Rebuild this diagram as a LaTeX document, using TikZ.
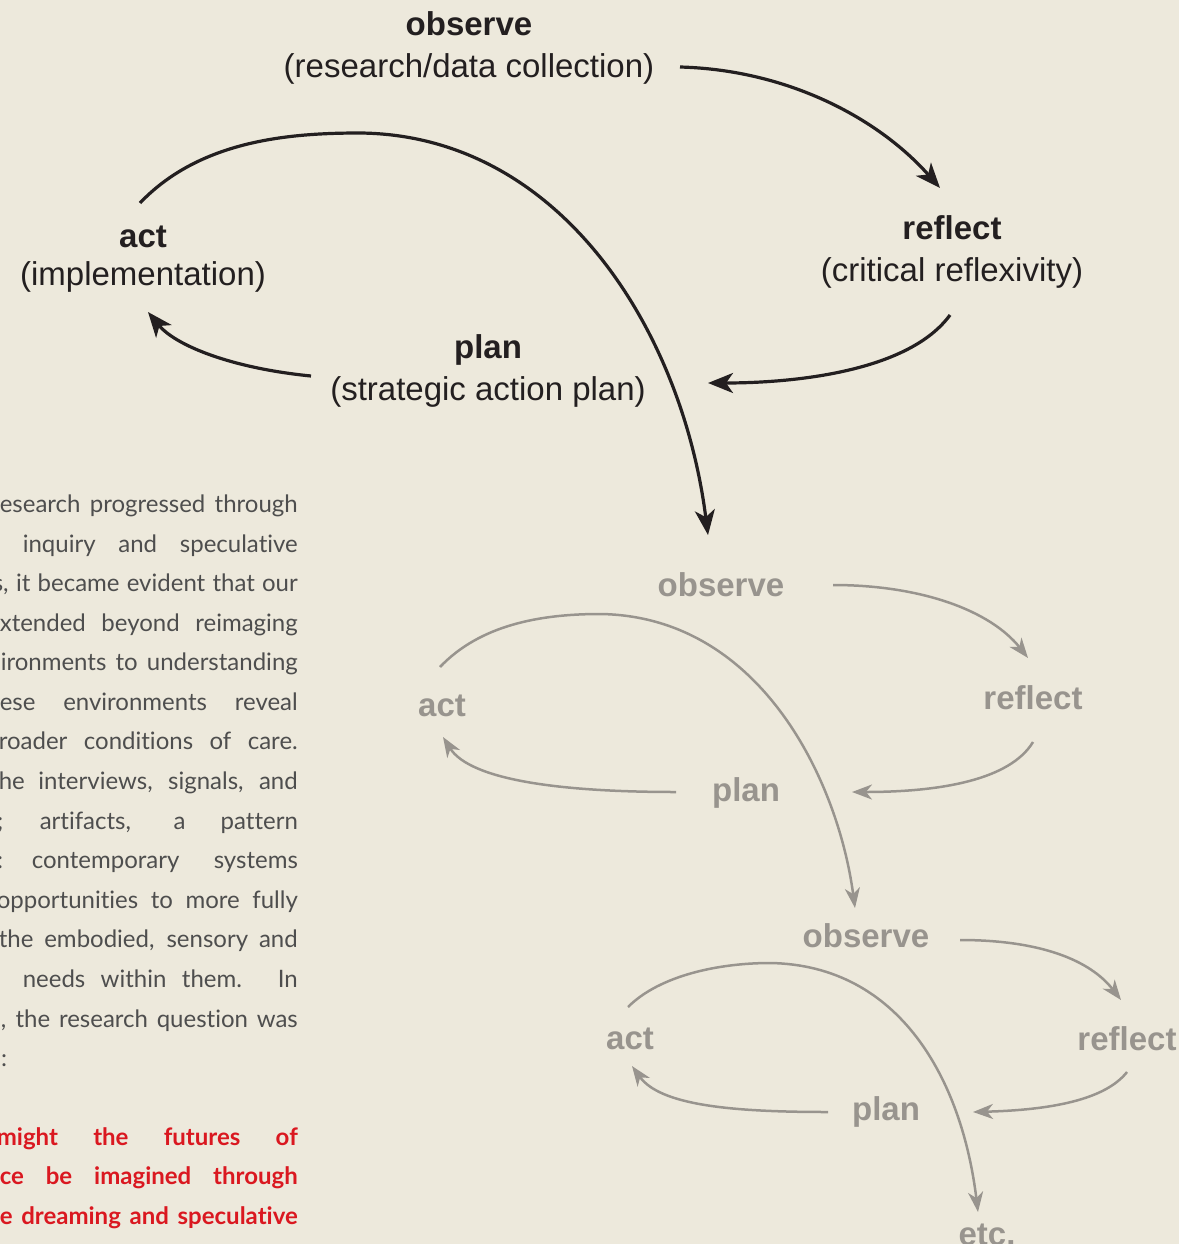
\documentclass[tikz,border=0pt]{standalone}
\usepackage{fontspec}
\setmainfont{Liberation Sans}
\newfontfamily\lato[Ligatures=NoCommon]{Lato}
\usetikzlibrary{arrows.meta}
\definecolor{bg}{RGB}{237,233,220}
\definecolor{ink}{RGB}{35,31,32}
\definecolor{fade}{RGB}{152,148,142}
\definecolor{bodytext}{RGB}{78,78,78}
\definecolor{qred}{RGB}{218,24,32}
\begin{document}
\begin{tikzpicture}[x=1pt,y=-1pt,
  lbl/.style={inner sep=0pt, anchor=base, font=\fontsize{33}{38}\selectfont, text=ink},
  ttl/.style={lbl, font=\fontsize{33}{38}\selectfont\bfseries},
  gttl/.style={ttl, text=fade},
  darkflow/.style={draw=ink, line width=3.2pt, -{Stealth[length=25pt,width=20pt,inset=7pt]}},
  fadeflow/.style={draw=fade, line width=2.5pt, -{Stealth[length=20pt,width=15pt,inset=6pt]}},
  bodyl/.style={anchor=base east, inner sep=0pt, font=\lato\fontsize{24}{30}\selectfont, text=bodytext},
  qline/.style={bodyl, font=\lato\bfseries\fontsize{24}{30}\selectfont, text=qred}
]
\useasboundingbox (0,0) rectangle (1179,1244);
\fill[bg] (0,0) rectangle (1179,1244);
\clip (0,0) rectangle (1179,1244);

% ---------- top cycle ----------
\node[ttl] (obs1) at (469,36) {observe};
\node[lbl] (obs1s) at (469,78) {(research/data collection)};
\node[ttl] (act1) at (143,247) {act};
\node[lbl] (act1s) at (143,285) {(implementation)};
\node[ttl] (ref1) at (952,239) {reflect};
\node[lbl] (ref1s) at (952,281) {(critical reflexivity)};
\node[ttl] (pl1) at (488,358) {plan};
\node[lbl] (pl1s) at (488,400) {(strategic action plan)};

\coordinate (o1out) at (680,67);
\coordinate (r1in) at (940,188);
\coordinate (r1out) at (950,315);
\coordinate (p1in) at (708,383);
\coordinate (p1out) at (311,376);
\coordinate (a1in) at (148,312);
\coordinate (a1out) at (140,203);
\coordinate (a1top) at (360,133);
\coordinate (o2in) at (708,535);

\draw[darkflow] (o1out) .. controls (790,70) and (880,120) .. (r1in);
\draw[darkflow] (r1out) .. controls (910,370) and (800,383) .. (p1in);
\draw[darkflow] (p1out) .. controls (230,368) and (175,345) .. (a1in);
\draw[darkflow] (a1out) .. controls (200,140) and (290,133) .. (a1top) .. controls (560,135) and (682,330) .. (o2in);

% ---------- middle cycle ----------
\node[gttl] (obs2) at (721,596) {observe};
\node[gttl] (act2) at (442,716) {act};
\node[gttl] (ref2) at (1033,709) {reflect};
\node[gttl] (pl2) at (746,801) {plan};

\coordinate (o2out) at (833,585);
\coordinate (r2in) at (1028,658);
\coordinate (r2out) at (1033,742);
\coordinate (p2in) at (852,792);
\coordinate (p2out) at (676,792);
\coordinate (a2in) at (443,737);
\coordinate (a2out) at (440,667);
\coordinate (a2top) at (600,614);
\coordinate (o3in) at (855,908);

\draw[fadeflow] (o2out) .. controls (920,585) and (990,610) .. (r2in);
\draw[fadeflow] (r2out) .. controls (1010,780) and (940,792) .. (p2in);
\draw[fadeflow] (p2out) .. controls (560,792) and (470,780) .. (a2in);
\draw[fadeflow] (a2out) .. controls (480,625) and (540,614) .. (a2top) .. controls (760,616) and (838,780) .. (o3in);

% ---------- bottom cycle ----------
\node[gttl] (obs3) at (866,947) {observe};
\node[gttl] (act3) at (630,1049) {act};
\node[gttl] (ref3) at (1127,1050) {reflect};
\node[gttl] (pl3) at (886,1120) {plan};
\node[gttl] (etc) at (987,1245) {etc.};

\coordinate (o3out) at (960,940);
\coordinate (r3in) at (1121,1000);
\coordinate (r3out) at (1127,1072);
\coordinate (p3in) at (973,1112);
\coordinate (p3out) at (828,1112);
\coordinate (a3in) at (632,1066);
\coordinate (a3out) at (628,1007);
\coordinate (a3top) at (770,963);
\coordinate (etcin) at (978,1212);

\draw[fadeflow] (o3out) .. controls (1040,940) and (1090,960) .. (r3in);
\draw[fadeflow] (r3out) .. controls (1105,1100) and (1050,1110) .. (p3in);
\draw[fadeflow] (p3out) .. controls (730,1112) and (660,1105) .. (a3in);
\draw[fadeflow] (a3out) .. controls (660,975) and (720,963) .. (a3top) .. controls (900,965) and (962,1080) .. (etcin);

% ---------- body text (cut at left edge) ----------
\node[bodyl] (b1) at (298,512) {\makebox[298pt][s]{esearch progressed through}};
\node[bodyl] (b2) at (298,552) {\makebox[275pt][s]{inquiry and speculative}};
\node[bodyl] (b3) at (298,591) {\makebox[305pt][s]{s, it became evident that our}};
\node[bodyl] (b4) at (298,631) {\makebox[298pt][s]{xtended beyond reimaging}};
\node[bodyl] (b5) at (298,670) {\makebox[297pt][s]{ironments to understanding}};
\node[bodyl] (b6) at (298,710) {\makebox[298pt][s]{ese environments reveal}};
\node[bodyl] (b7) at (298,749) {\makebox[299pt][s]{roader conditions of care.}};
\node[bodyl] (b8) at (298,789) {\makebox[299pt][s]{he interviews, signals, and}};
\node[bodyl, anchor=base west] (b9a) at (-3,829) {;};
\node[bodyl] (b9) at (298,829) {\makebox[258pt][s]{artifacts, a pattern}};
\node[bodyl, anchor=base west] (b10a) at (-3,868) {:};
\node[bodyl] (b10) at (298,868) {\makebox[266pt][s]{contemporary systems}};
\node[bodyl] (b11) at (298,908) {\makebox[301pt][s]{opportunities to more fully}};
\node[bodyl] (b12) at (298,947) {\makebox[299pt][s]{the embodied, sensory and}};
\node[bodyl] (b13) at (298,987) {\makebox[275pt][s]{needs within them. In}};
\node[bodyl] (b14) at (298,1027) {\makebox[297pt][s]{, the research question was}};
\node[bodyl, anchor=base west] (b15) at (1,1066) {:};
\node[qline] (q1) at (298,1145) {\makebox[301pt][s]{might the futures of}};
\node[qline] (q2) at (298,1184) {\makebox[298pt][s]{ce be imagined through}};
\node[qline] (q3) at (298,1224) {\makebox[298pt][s]{e dreaming and speculative}};
\end{tikzpicture}
\end{document}
